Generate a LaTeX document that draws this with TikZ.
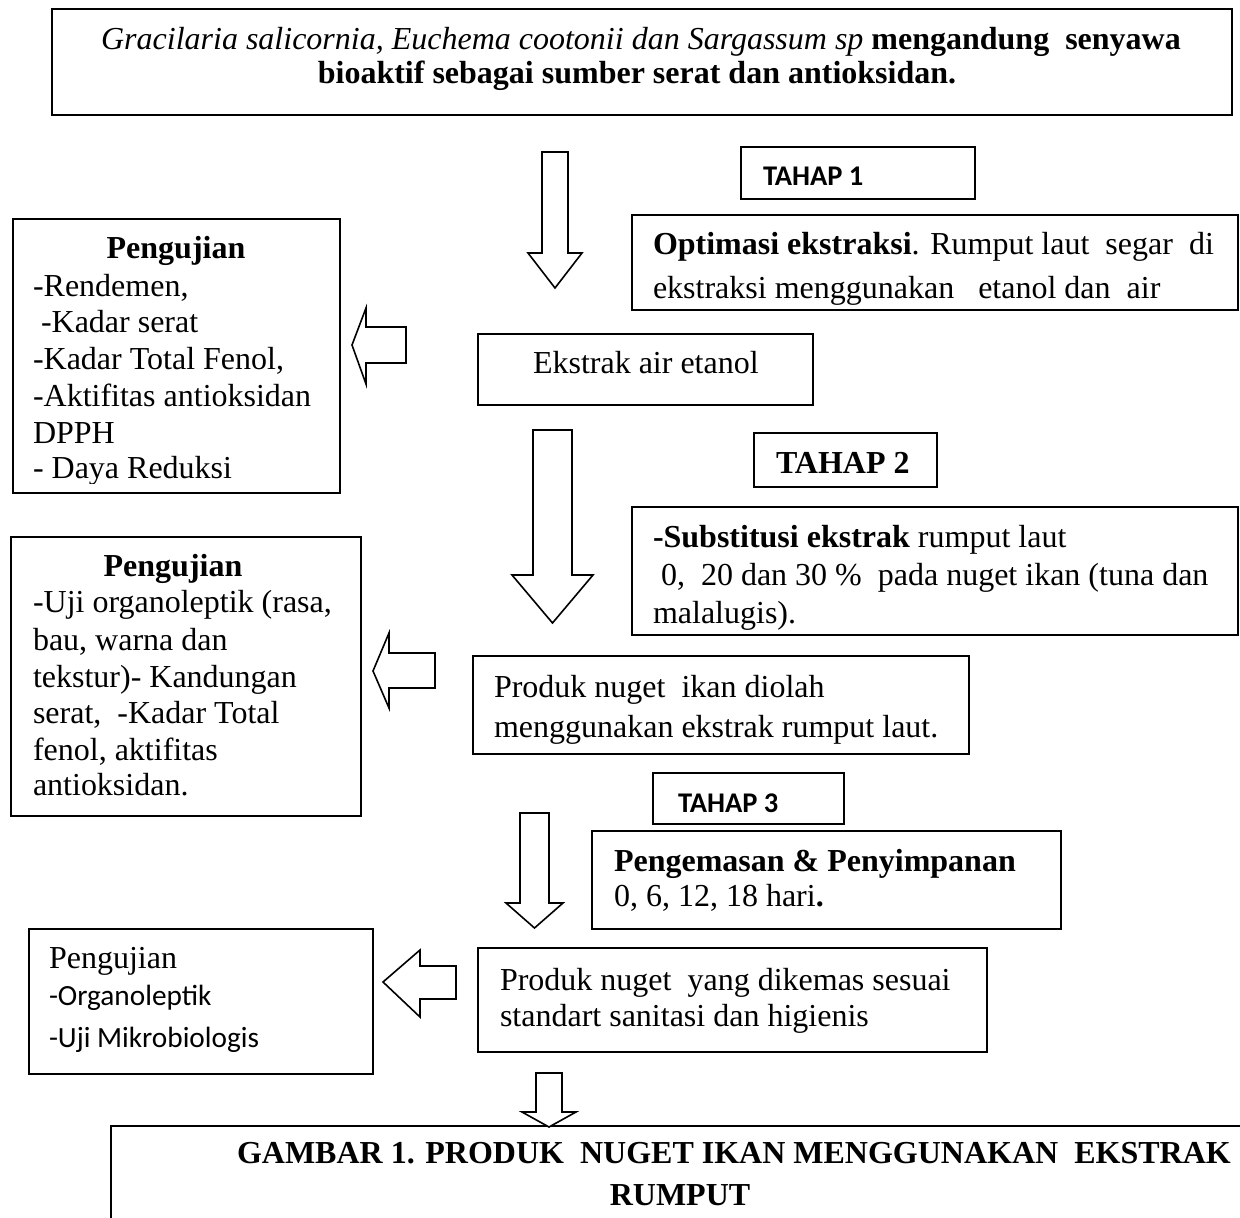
\documentclass[tikz,border=0pt]{standalone}
\usepackage{fontspec}
\setmainfont{Liberation Serif}
\newfontfamily\calfont{Carlito}
\newcommand{\bodyfont}{\fontsize{32}{36.8}\selectfont}
\newcommand{\calsmall}{\calfont\fontsize{29.3}{35}\selectfont}
\newcommand{\calbold}{\calfont\bfseries\fontsize{28.5}{34}\selectfont}
\newcommand{\DnArrow}[7]{\draw[blk] (#1,#3) -- (#2,#3) -- (#2,#4) -- (#6,#4) -- ({(#1+#2)/2},#7) -- (#5,#4) -- (#1,#4) -- cycle;}
\newcommand{\LfArrow}[8]{\draw[blk] (#1,#2) -- (#3,#4) -- (#3,#6) -- (#8,#6) -- (#8,#7) -- (#3,#7) -- (#3,#5) -- cycle;}
\begin{document}
\begin{tikzpicture}[x=1pt,y=-1pt,line width=1.6pt,
  box/.style={draw, line join=miter, anchor=north west, inner sep=0, outer sep=0},
  txt/.style={anchor=base west, inner sep=0, outer sep=0, font=\bodyfont},
  ctxt/.style={anchor=base, inner sep=0, outer sep=0, font=\bodyfont},
  blk/.style={draw, line join=miter, fill=white}]
\useasboundingbox (0,0) rectangle (1240,1218);
\fill[white] (0,0) rectangle (1240,1218);

% ---------- boxes ----------
\node[box, line width=2.3pt, minimum width=1180pt, minimum height=106pt] (top) at (52,9) {};
\node[box, minimum width=234pt, minimum height=52pt] (tahap1) at (741,147) {};
\node[box, minimum width=606pt, minimum height=95pt] (opt) at (632,215) {};
\node[box, minimum width=335pt, minimum height=71pt] (ekstrak) at (478,334) {};
\node[box, minimum width=327pt, minimum height=274pt] (uji1) at (13,219) {};
\node[box, minimum width=183pt, minimum height=54pt] (tahap2) at (754,433) {};
\node[box, minimum width=606pt, minimum height=128pt] (subst) at (632,507) {};
\node[box, minimum width=350pt, minimum height=279pt] (uji2) at (11,537) {};
\node[box, minimum width=496pt, minimum height=98pt] (produk1) at (473,656) {};
\node[box, minimum width=191pt, minimum height=51pt] (tahap3) at (653,773) {};
\node[box, minimum width=469pt, minimum height=98pt] (kemas) at (592,831) {};
\node[box, minimum width=509pt, minimum height=104pt] (produk2) at (478,948) {};
\node[box, minimum width=344pt, minimum height=145pt] (uji3) at (29,929) {};
\node[box, minimum width=1150pt, minimum height=130pt] (gambar) at (111,1126) {};

% ---------- block arrows ----------
\DnArrow{542}{568}{152}{253}{528}{582}{288}
\LfArrow{352}{345}{366}{308}{384}{327}{363}{406}
\DnArrow{533}{572}{430}{575}{512}{593}{623}
\LfArrow{373}{671}{389}{633}{708}{653}{688}{435}
\DnArrow{520}{549}{813}{903}{506}{563}{928}
\LfArrow{383}{982}{420}{950}{1017}{966}{999}{456}
\DnArrow{536}{562}{1073}{1112}{522}{576}{1127}

% ---------- texts ----------
\node[ctxt] (t1a) at (641,49) {\textit{Gracilaria salicornia, Euchema cootonii dan Sargassum sp} \textbf{mengandung\ \ senyawa}};
\node[ctxt] (t1b) at (637,83) {\textbf{bioaktif sebagai sumber serat dan antioksidan.}};

\node[txt, font=\calbold] (tt1) at (763,185) {TAHAP 1};

\begin{scope}
\clip (632,215) rectangle (1238,306);
\node[txt] (o1) at (653,254) {\textbf{Optimasi ekstraksi}. Rumput laut\ \ segar\ \ di};
\node[txt] (o2) at (653,298) {ekstraksi menggunakan\ \ \ etanol dan\ \ air};
\end{scope}

\node[txt] (e1) at (533,373) {Ekstrak air etanol};

\node[ctxt] (u1h) at (176,258) {\textbf{Pengujian}};
\begin{scope}
\clip (13,219) rectangle (340,483);
\node[txt] (u1a) at (33,296) {-Rendemen,};
\node[txt] (u1b) at (33,332) {\ -Kadar serat};
\node[txt] (u1c) at (33,369) {-Kadar Total Fenol,};
\node[txt] (u1d) at (33,406) {-Aktifitas antioksidan};
\node[txt] (u1e) at (33,443) {DPPH};
\node[txt] (u1f) at (33,478) {- Daya Reduksi};
\end{scope}

\node[txt] (tt2) at (776,473) {\textbf{TAHAP 2}};

\node[txt] (s1) at (653,547) {\textbf{-Substitusi ekstrak} rumput laut};
\node[txt] (s2) at (653,585) {\ 0,\ \ 20 dan 30 \%\ \ pada nuget ikan (tuna dan};
\node[txt] (s3) at (653,623) {malalugis).};

\node[ctxt] (u2h) at (173,576) {\textbf{Pengujian}};
\node[txt] (u2a) at (33,612) {-Uji organoleptik (rasa,};
\node[txt] (u2b) at (33,650) {bau, warna dan};
\node[txt] (u2c) at (33,687) {tekstur)- Kandungan};
\node[txt] (u2d) at (33,723) {serat,\ \ -Kadar Total};
\node[txt] (u2e) at (33,760) {fenol, aktifitas};
\node[txt] (u2f) at (33,795) {antioksidan.};

\begin{scope}
\clip (473,656) rectangle (969,743);
\node[txt] (p1a) at (494,697) {Produk nuget\ \ ikan diolah};
\node[txt] (p1b) at (494,737) {menggunakan ekstrak rumput laut.};
\end{scope}

\node[txt, font=\calbold] (tt3) at (678,812) {TAHAP 3};

\node[txt] (k1) at (614,871) {\textbf{Pengemasan \& Penyimpanan}};
\node[txt] (k2) at (614,906) {0, 6, 12, 18 hari\textbf{.}};

\node[txt] (p2a) at (500,990) {Produk nuget\ \ yang dikemas sesuai};
\node[txt] (p2b) at (500,1026) {standart sanitasi dan higienis};

\node[txt] (u3h) at (49,968) {Pengujian};
\node[txt, font=\calsmall] (u3a) at (49,1005) {-Organoleptik};
\node[txt, font=\calsmall] (u3b) at (49,1047) {-Uji Mikrobiologis};

\node[txt] (g1) at (237,1163) {\textbf{GAMBAR 1. PRODUK\ \ NUGET IKAN MENGGUNAKAN\ \ EKSTRAK}};
\node[ctxt] (g2) at (680,1205) {\textbf{RUMPUT}};
\end{tikzpicture}
\end{document}
